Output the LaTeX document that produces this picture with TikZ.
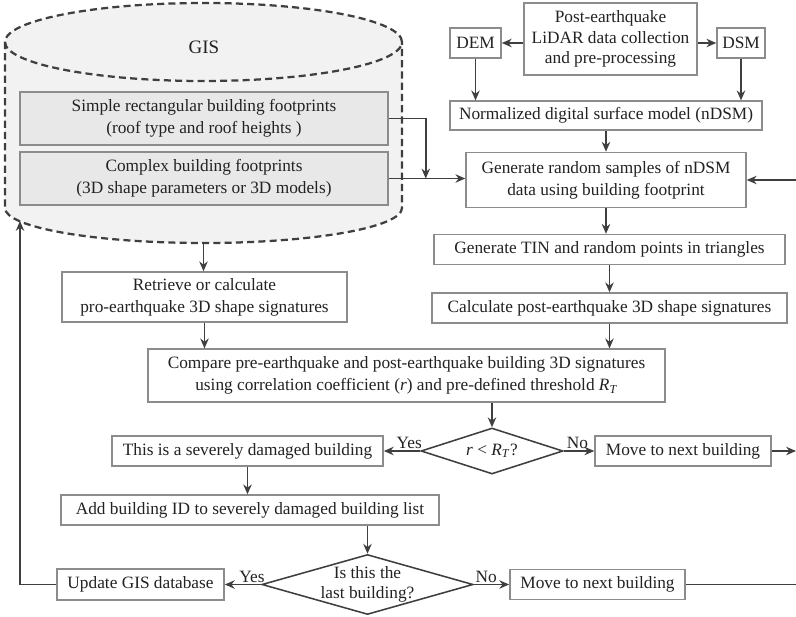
\documentclass[tikz,border=0pt]{standalone}
\usepackage{fontspec}
\setmainfont{Liberation Serif}
\usepackage{tikz}
\usetikzlibrary{arrows.meta,positioning,calc,shapes.geometric}
\definecolor{linegray}{HTML}{3F3F3F}
\definecolor{boxgray}{HTML}{8C8C8C}
\definecolor{gisfill}{HTML}{F2F2F2}
\definecolor{layerfill}{HTML}{E8E8E8}
\definecolor{textgray}{HTML}{222222}
\newcommand{\figfont}{\fontsize{12.3pt}{15.5pt}\selectfont}
\tikzset{
  >=Stealth,
  box/.style={rectangle, draw=boxgray, line width=1pt, fill=white, inner sep=2pt, align=center, text=textgray, font=\figfont},
  layer box/.style={box, fill=layerfill},
  decision/.style={diamond, draw=linegray, line width=1.1pt, fill=white, inner sep=-1pt, aspect=3.4, align=center, text=textgray, font=\fontsize{12.3pt}{14pt}\selectfont},
  flow/.style={-{Stealth[length=7pt,width=6pt]}, draw=linegray, line width=1.1pt},
  plain/.style={draw=linegray, line width=1.1pt},
  lbl/.style={font=\figfont, text=textgray, inner sep=1pt}
}

\begin{document}
\begin{tikzpicture}[x=0.025cm, y=0.025cm,
    % look of the GIS cylinder
    gis line/.style={draw=linegray, line width=1.6pt, dash pattern=on 5pt off 3pt}
]
\useasboundingbox (0,0) rectangle (796,-617);

% --- GIS database ---
\fill[gisfill] (5,-42) -- (5,-208) arc[start angle=180, end angle=360, x radius=198.5, y radius=35]
    -- (402,-42) arc[start angle=0, end angle=180, x radius=198.5, y radius=39] -- cycle;
\draw[gis line] (203.5,-42) ellipse[x radius=198.5, y radius=39];
\draw[gis line] (5,-42) -- (5,-208) arc[start angle=180, end angle=360, x radius=198.5, y radius=35] -- (402,-42);
\node[text=textgray, font=\fontsize{13.5pt}{16pt}\selectfont] (gisLabel) at (204,-47) {GIS};

\node[layer box, minimum width=9.2cm, minimum height=1.32cm] (simple) at (204,-118.5)
    {Simple rectangular building footprints\\(roof type and roof heights )};
\node[layer box, minimum width=9.2cm, minimum height=1.32cm] (complex) at (204,-178.5)
    {Complex building footprints\\(3D shape parameters or 3D models)};

% --- Post-earthquake LiDAR ---
\node[box, minimum width=4.33cm, minimum height=1.8cm, font=\fontsize{12.3pt}{14.5pt}\selectfont] (post) at (610.5,-39)
    {Post-earthquake\\LiDAR data collection\\and pre-processing};
\node[box, minimum width=1.28cm, minimum height=0.75cm] (dem) at (475.5,-43) {DEM};
\node[box, minimum width=1.2cm, minimum height=0.75cm] (dsm) at (741,-43) {DSM};
\node[box, minimum width=7.8cm, minimum height=0.72cm] (ndsm) at (606,-115.5) {Normalized digital surface model (nDSM)};
\node[box, minimum width=7cm, minimum height=1.38cm] (gen) at (606,-180)
    {Generate random samples of nDSM\\data using building footprint};
\node[box, minimum width=8.78cm, minimum height=0.75cm] (tin) at (609.5,-249.5) {Generate TIN and random points in triangles};
\node[box, minimum width=8.88cm, minimum height=0.75cm] (calc) at (609.5,-308) {Calculate post-earthquake 3D shape signatures};

% --- Pre-earthquake signatures and comparison ---
\node[box, minimum width=7.13cm, minimum height=1.25cm] (retrieve) at (204.5,-297)
    {Retrieve or calculate\\pro-earthquake 3D shape signatures};
\node[box, minimum width=12.93cm, minimum height=1.32cm] (compare) at (406.5,-375.5)
    {Compare pre-earthquake and post-earthquake building 3D signatures\\
     using correlation coefficient (\textit{r}) and pre-defined threshold \textit{R}\textsubscript{\textit{T}}};

% --- First decision ---
\node[decision, minimum width=3.55cm, minimum height=1.15cm] (rTest) at (492,-451)
    {\textit{r} < \textit{R}\textsubscript{\textit{T}}?};
\node[box, minimum width=6.78cm, minimum height=0.75cm] (severe) at (247.5,-451) {This is a severely damaged building};
\node[box, minimum width=4.4cm, minimum height=0.75cm] (nextA) at (683,-451) {Move to next building};
\node[box, minimum width=9.45cm, minimum height=0.75cm] (addID) at (250,-510) {Add building ID to severely damaged building list};

% --- Second decision ---
\node[decision, minimum width=5.28cm, minimum height=1.5cm] (lastTest) at (367.5,-584.5) {Is this the\\last building?};
\node[box, minimum width=4.18cm, minimum height=0.78cm] (update) at (140.5,-584.5) {Update GIS database};
\node[box, minimum width=4.38cm, minimum height=0.75cm] (nextB) at (597.5,-584.5) {Move to next building};

% --- Connectors ---
\coordinate (gisBottom) at (203.5,-243);
\coordinate (gisReturn) at (20,-221);
\coordinate (rightEdge) at (796,0);
\coordinate (merge) at ($(complex.east)+(37,0)$);

\draw[flow] (post.west |- dem.east) -- (dem.east);
\draw[flow] (post.east |- dsm.west) -- (dsm.west);
\foreach \src in {dem, dsm} {
    \draw[flow] (\src.south) -- (\src.south |- ndsm.north);
}
\foreach \src/\dst in {ndsm/gen, gen/tin, tin/calc, calc/compare, retrieve/compare, severe/addID} {
    \draw[flow] (\src.south) -- (\src.south |- \dst.north);
}
\foreach \src/\dst in {compare/rTest, addID/lastTest} {
    \draw[flow] (\src.south -| \dst.north) -- (\dst.north);
}

\draw[flow] (simple.east) -| (merge);
\draw[flow] (complex.east) -- (complex.east -| gen.west);
\draw[flow] (gen.east -| rightEdge) -- (gen.east);
\draw[flow] (gisBottom) -- (gisBottom |- retrieve.north);

\draw[flow] (rTest.west) -- node[lbl, above, pos=0.3] (yesA) {Yes} (rTest.west -| severe.east);
\draw[flow] (rTest.east) -- node[lbl, above, pos=0.45] (noA) {No} (rTest.east -| nextA.west);
\draw[flow] (nextA.east) -- (nextA.east -| rightEdge);

\draw[flow] (lastTest.west) -- node[lbl, above, pos=0.25] (yesB) {Yes} (lastTest.west -| update.east);
\draw[flow] (lastTest.east) -- node[lbl, above, pos=0.35] (noB) {No} (lastTest.east -| nextB.west);
\draw[plain] (nextB.east) -- (nextB.east -| rightEdge);
\draw[flow] (update.west) -| (gisReturn);

\end{tikzpicture}
\end{document}
